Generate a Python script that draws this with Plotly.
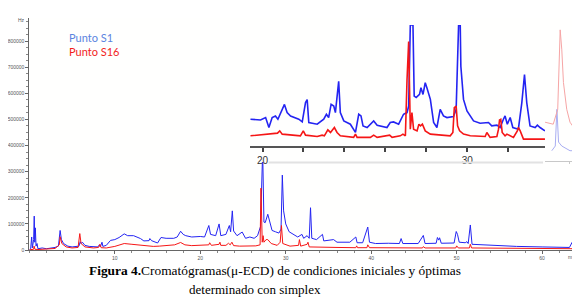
import plotly.graph_objects as go

# the page adds an 8 px body margin, so the figure is 8 px smaller and all
# reference pixel positions are shifted by 8 px
OFF = 8
W, H = 580 - OFF, 302 - OFF

# ---------------- main chromatogram (time in min, signal in Hz) ----------------
main_t_s1 = [0, 0.15, 0.27, 0.35, 0.5, 0.57, 0.63, 0.7, 0.78, 0.9, 1.0, 1.5, 2.0, 2.5, 3.0, 3.4, 3.6, 3.75,
             4.0, 4.5, 5.0, 5.8, 5.95, 6.05, 6.2, 6.5, 7.0, 8.0, 8.2, 8.3, 8.5, 8.6, 9.0, 9.5, 10.0, 10.5,
             11.1, 11.5, 12.2, 13.0, 13.4, 14.0, 14.1, 14.3, 15.0, 15.4, 16.0, 16.9, 17.3, 17.7, 18.0, 18.3,
             19.0, 20.0, 20.5, 21.0, 21.2, 21.8, 22.2, 22.4, 23.0, 23.4, 23.55, 23.75, 23.9, 24.3, 24.9, 25.3,
             25.8, 26.3, 26.7, 27.05, 27.3, 27.45, 27.6, 27.9, 28.1, 28.4, 28.8, 29.2, 29.45, 29.6, 29.75,
             30.0, 30.4, 30.9, 31.4, 31.9, 32.1, 32.5, 32.75, 32.9, 33.05, 33.6, 34.3, 34.45, 35.6, 36.0,
             37.5, 38.2, 38.35, 39.0, 39.6, 39.8, 40.5, 42.0, 43.3, 43.5, 43.7, 45.5, 46.1, 46.3, 47.6,
             47.75, 47.9, 48.0, 48.2, 49.7, 49.95, 50.1, 50.3, 51.0, 51.2, 51.35, 51.6, 51.8, 54.0, 57.0,
             60.0, 63.2, 63.5, 63.8, 64.2]
main_s1 = [2000, 5000, 50000, 8000, 40000, 130000, 30000, 85000, 15000, 25000, 5000, 8000, 5000, 7000, 10000,
           15000, 75000, 40000, 25000, 15000, 12000, 15000, 32000, 25000, 30000, 18000, 14000, 12000, 20000,
           12000, 30000, 14000, 18000, 37000, 40000, 48000, 62000, 55000, 55000, 44000, 35000, 36000, 44000,
           36000, 27000, 48000, 45000, 45000, 50000, 72000, 60000, 55000, 50000, 52000, 50000, 94000, 60000,
           55000, 100000, 55000, 60000, 94000, 70000, 150000, 73000, 55000, 69000, 45000, 50000, 45000, 55000,
           90000, 380000, 107000, 105000, 137000, 110000, 75000, 70000, 65000, 80000, 287000, 150000, 100000,
           70000, 60000, 50000, 60000, 45000, 55000, 45000, 162000, 45000, 40000, 60000, 35000, 40000, 30000,
           30000, 50000, 28000, 28000, 88000, 30000, 25000, 26000, 25000, 44000, 25000, 25000, 56000, 25000,
           26000, 48000, 38000, 47000, 26000, 27000, 71000, 60000, 30000, 28000, 32000, 25000, 96000, 22000,
           18000, 14000, 12000, 10000, 29000, 10000, 8000]

main_t_s16 = [0, 0.5, 0.55, 0.65, 1.0, 2.0, 3.0, 3.5, 3.6, 3.8, 4.3, 5.0, 5.7, 5.9, 6.05, 6.5, 7.5, 8.1, 8.25,
              8.4, 9.0, 10.0, 11.1, 12.0, 13.0, 14.5, 15.2, 16.0, 17.0, 17.7, 18.2, 19.0, 20.0, 21.0, 21.1,
              21.3, 22.2, 22.3, 22.4, 23.0, 23.3, 23.5, 23.7, 23.9, 24.6, 25.5, 26.5, 27.0, 27.1, 27.25,
              27.35, 27.45, 27.7, 27.9, 28.3, 29.0, 29.35, 29.5, 29.65, 30.5, 31.5, 31.6, 31.75, 32.5, 32.6,
              32.75, 34.0, 36.0, 38.2, 38.3, 38.4, 39.5, 39.6, 39.8, 46.0, 46.1, 46.3, 49.9, 50.0, 50.2,
              51.5, 51.6, 51.75, 55.0, 60.0, 64.2]
main_s16 = [1000, 3000, 15000, 3000, 2000, 3000, 6000, 20000, 51000, 25000, 12000, 8000, 10000, 63000, 25000,
            12000, 8000, 10000, 22000, 9000, 8000, 14000, 25000, 22000, 18000, 14000, 15000, 18000, 20000,
            29000, 20000, 17000, 18000, 20000, 28000, 18000, 22000, 30000, 18000, 18000, 26000, 20000, 30000,
            17000, 15000, 15000, 16000, 20000, 237000, 30000, 55000, 30000, 40000, 40000, 25000, 18000, 30000,
            94000, 25000, 15000, 18000, 40000, 15000, 22000, 30000, 12000, 12000, 10000, 9000, 16000, 9000,
            9000, 20000, 9000, 8000, 13000, 8000, 8000, 16000, 8000, 8000, 22000, 8000, 7000, 6000, 5000]

# ---------------- inset: zoom 19.4 - 33.8 min (two blue peaks run off the top) ----------------
inset_t_s1 = [19.41, 19.90, 20.15, 20.31, 20.47, 20.63, 20.75, 20.96, 21.07, 21.2, 21.37, 21.77, 21.94, 22.10,
              22.18, 22.26, 22.67, 22.99, 23.12, 23.23, 23.35, 23.48, 23.56, 23.72, 23.80, 23.97, 24.29, 24.54,
              24.70, 24.81, 24.91, 25.11, 25.43, 25.60, 26.08, 26.24, 26.40, 26.65, 26.89, 27.06, 27.14, 27.22,
              27.35, 27.41, 27.51, 27.67, 27.74, 27.84, 27.95, 28.03, 28.20, 28.36, 28.52, 28.68, 28.84, 29.01,
              29.33, 29.46, 29.58, 29.66, 29.69, 29.82, 29.99, 30.31, 30.63, 31.04, 31.20, 31.45, 31.61, 31.77,
              31.85, 31.96, 32.10, 32.23, 32.50, 32.67, 32.80, 32.91, 33.07, 33.32, 33.43, 33.56, 33.80]
inset_s1 = [62600, 61000, 66400, 44000, 66400, 70000, 62600, 85000, 96000, 77600, 70000, 62600, 56600, 100000,
            107000, 55000, 51400, 62600, 73800, 66400, 96000, 92300, 77600, 148000, 77600, 58800, 51400, 32900,
            73800, 70000, 47600, 44000, 58800, 49200, 44000, 55200, 56600, 51400, 73800, 77600, 92300, 275000,
            275000, 114700, 111800, 118500, 133500, 118500, 144700, 133500, 107300, 55500, 44000, 85000, 70000,
            66400, 68600, 85000, 275000, 275000, 181800, 107300, 81200, 58800, 53700, 55200, 47600, 49200,
            44000, 62600, 70000, 51400, 66400, 44000, 40200, 100000, 163200, 100000, 47600, 44000, 49200,
            44000, 36400]

inset_t_s16 = [19.41, 20.55, 20.73, 20.84, 20.96, 21.85, 21.99, 22.10, 22.67, 22.91, 23.02, 23.19, 23.32, 23.51,
               23.64, 23.80, 24.45, 24.54, 24.62, 25.27, 25.43, 25.60, 26.21, 26.33, 26.73, 26.86, 26.98, 27.06,
               27.14, 27.22, 27.30, 27.38, 27.55, 27.64, 27.72, 27.81, 27.95, 28.20, 28.68, 29.17, 29.30, 29.37,
               29.46, 29.53, 29.63, 29.82, 30.15, 30.88, 30.96, 31.12, 31.45, 31.53, 31.58, 31.64, 31.71, 31.85,
               31.94, 32.26, 32.45, 32.50, 32.59, 32.75, 33.07, 33.80]
inset_s16 = [25300, 29100, 31300, 36400, 29100, 25300, 36400, 26800, 23900, 26800, 25300, 38700, 32900, 44000,
             32900, 25300, 21700, 29100, 21700, 21700, 26800, 21700, 26800, 21700, 25300, 29100, 25300, 152000,
             237700, 40200, 77600, 40200, 36400, 51400, 47600, 51400, 36400, 29100, 26800, 25300, 32900, 88800,
             92300, 47600, 36400, 29100, 25300, 23900, 32900, 21700, 23900, 40200, 61000, 62600, 32900, 25300,
             29100, 21700, 36400, 44000, 36400, 17900, 17900, 17900]

# ---------------- cropped panel at the right edge ----------------
edge_t_s1 = [34.13, 34.30, 34.38, 34.46, 34.62, 35.02, 35.51]
edge_s1 = [22600, 32900, 113900, 41600, 32900, 22600, 22600]
edge_t_s16 = [33.80, 34.20, 34.42, 34.54, 34.62, 34.70, 34.86, 35.02, 35.19, 35.35, 35.51]
edge_s16 = [85400, 81000, 113900, 289000, 245000, 173000, 113900, 85400, 74500, 66400, 63500]

y_ticks = [0, 100000, 200000, 300000, 400000, 500000, 600000, 700000, 800000]
x_ticks = [10, 20, 30, 40, 50, 60]
inset_ticks = [20, 22, 24, 26, 28, 30, 32]
inset_labels = ["20", "", "", "", "", "30", ""]

BLUE = "#2424f2"
RED = "#f51616"


def px(x):
    return (x - OFF) / W


def py(y):
    return (H - (y - OFF)) / H


fig = go.Figure()
fig.add_trace(go.Scatter(x=main_t_s1, y=main_s1, mode="lines", line=dict(color=BLUE, width=1),
                         xaxis="x", yaxis="y", hoverinfo="skip"))
fig.add_trace(go.Scatter(x=main_t_s16, y=main_s16, mode="lines", line=dict(color=RED, width=1),
                         xaxis="x", yaxis="y", hoverinfo="skip"))
fig.add_trace(go.Scatter(x=inset_t_s1, y=inset_s1, mode="lines", line=dict(color=BLUE, width=1.6),
                         xaxis="x2", yaxis="y2", hoverinfo="skip"))
fig.add_trace(go.Scatter(x=inset_t_s16, y=inset_s16, mode="lines", line=dict(color=RED, width=1.6),
                         xaxis="x2", yaxis="y2", hoverinfo="skip"))
fig.add_trace(go.Scatter(x=edge_t_s1, y=edge_s1, mode="lines", line=dict(color="#a9aef2", width=1),
                         xaxis="x3", yaxis="y3", hoverinfo="skip"))
fig.add_trace(go.Scatter(x=edge_t_s16, y=edge_s16, mode="lines", line=dict(color="#f6a5a5", width=1),
                         xaxis="x3", yaxis="y3", hoverinfo="skip"))

tiny = dict(family="Liberation Sans", size=5, color="#555555")

fig.update_layout(
    width=W, height=H, margin=dict(l=0, r=0, t=0, b=0),
    paper_bgcolor="white", plot_bgcolor="#fffffe",
    showlegend=False,
    xaxis=dict(domain=[px(28.4), px(578)], range=[0, 64.2], anchor="y",
               showline=True, linecolor="#666666", linewidth=1, showgrid=False, zeroline=False,
               tickmode="array", tickvals=x_ticks, ticks="outside", ticklen=3, tickcolor="#666666",
               tickfont=tiny, minor=dict(dtick=2, tick0=0, ticks="outside", ticklen=2, tickcolor="#888888")),
    yaxis=dict(domain=[py(252), py(18)], range=[-1100, 888600], anchor="x",
               showline=True, linecolor="#666666", linewidth=1, showgrid=False, zeroline=False,
               tickmode="array", tickvals=y_ticks, tickformat="d", ticks="outside", ticklen=3,
               tickcolor="#666666", tickfont=tiny,
               minor=dict(dtick=25000, tick0=0, ticks="outside", ticklen=2, tickcolor="#888888")),
    xaxis2=dict(domain=[px(249), px(545)], range=[19.366, 33.805], anchor="free", position=py(148),
                showline=True, linecolor="#555555", linewidth=2, showgrid=False, zeroline=False,
                tickmode="array", tickvals=inset_ticks, ticktext=inset_labels, ticks="outside",
                ticklen=4, tickwidth=1.5, tickcolor="#444444",
                tickfont=dict(family="Liberation Sans", size=10, color="#333333")),
    yaxis2=dict(domain=[py(163), py(25)], range=[-33537, 275000], anchor="x2", visible=False),
    xaxis3=dict(domain=[px(545), px(580)], range=[33.8, 35.51], anchor="y3",
                showline=True, linecolor="#c8c8c8", linewidth=1, showgrid=False, zeroline=False,
                tickmode="array", tickvals=[35.0, 35.4], ticks="outside", ticklen=2, tickcolor="#c8c8c8",
                showticklabels=False),
    yaxis3=dict(domain=[py(162), py(25)], range=[0, 300000], anchor="x3", visible=False),
)

fig.add_shape(type="line", xref="paper", yref="paper", x0=px(268), x1=px(543), y0=py(163.5), y1=py(163.5),
              line=dict(color="#e2e2e2", width=2), layer="above")

annotations = [
    dict(x=px(21), y=py(20.5), text="Hz", font=tiny, xanchor="center", yanchor="middle"),
    dict(x=px(572), y=py(259), text="min", font=tiny, xanchor="center", yanchor="middle"),
    dict(x=px(66), y=py(38), text="Punto S1", font=dict(family="Lato", size=11, color="#5b84e0"),
         xanchor="left", yanchor="middle"),
    dict(x=px(66), y=py(52), text="Punto S16", font=dict(family="Lato", size=11, color="#f21d1d"),
         xanchor="left", yanchor="middle"),
    dict(x=px(86), y=py(272), text="<b>Figura 4.</b>Cromatógramas(μ-ECD) de condiciones iniciales y óptimas",
         font=dict(family="Liberation Serif", size=13.4, color="black"), xanchor="left", yanchor="middle"),
    dict(x=px(186), y=py(291), text="determinado con simplex",
         font=dict(family="Liberation Serif", size=13, color="black"), xanchor="left", yanchor="middle"),
]
for a in annotations:
    fig.add_annotation(xref="paper", yref="paper", showarrow=False, **a)

fig.write_html("out.html")
